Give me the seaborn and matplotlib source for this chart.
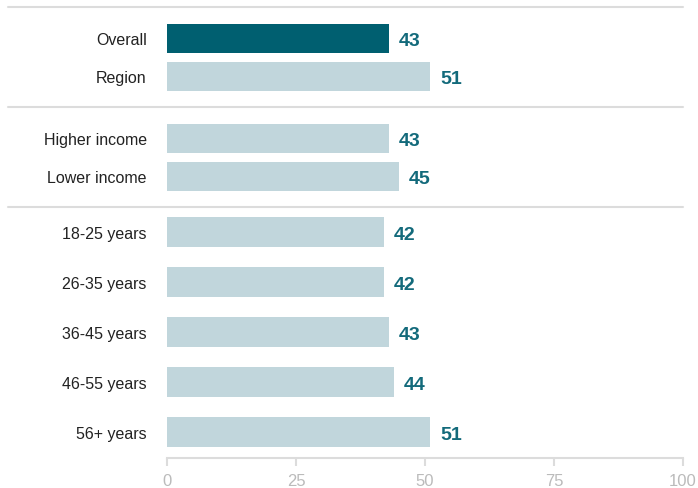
import matplotlib
matplotlib.use("Agg")
import matplotlib.pyplot as plt
import seaborn as sns
import pandas as pd
from matplotlib.lines import Line2D

categories = ["Overall", "Region", "Higher income", "Lower income",
              "18-25 years", "26-35 years", "36-45 years", "46-55 years", "56+ years"]
values = [43, 51, 43, 45, 42, 42, 43, 44, 51]
groups = ["summary", "summary", "income", "income", "age", "age", "age", "age", "age"]
x_ticks = [0, 25, 50, 75, 100]

df = pd.DataFrame({"category": categories, "value": values, "group": groups})

sns.set_theme(style="white")
plt.rcParams["font.family"] = ["Liberation Sans", "DejaVu Sans"]

DARK = "#005f70"
LIGHT = "#c1d6dc"
LABEL = "#136a7b"
GRID = "#dcdcdc"
W, H = 698, 489

fig = plt.figure(figsize=(W / 100, H / 100), dpi=100)

# panel layout in pixels: (top, bottom, pad_top, pad_bottom, spacing, bar height)
panels = [
    ("summary", 8, 108, 31, 31, 38, 29),
    ("income", 108, 208, 31, 31, 38, 29),
    ("age", 208, 459, 25, 26, 50, 30),
]
x0, x1 = 167, 683

for i, (g, top, bot, pt, pb, sp, bh) in enumerate(panels):
    ax = fig.add_axes([x0 / W, 1 - bot / H, (x1 - x0) / W, (bot - top) / H])
    sub = df[df["group"] == g]
    n = len(sub)
    pal = {c: (DARK if c == "Overall" else LIGHT) for c in sub["category"]}
    sns.barplot(data=sub, x="value", y="category", hue="category", palette=pal,
                order=list(sub["category"]), legend=False, width=bh / sp,
                saturation=1, linewidth=0, ax=ax)
    ax.set_ylim(n - 1 + pb / sp, -pt / sp)
    ax.set_xlim(0, 100)
    ax.set_xlabel("")
    ax.set_ylabel("")
    for cont in ax.containers:
        texts = ax.bar_label(cont, fmt="%d", padding=7, color=LABEL, fontsize=14,
                             fontweight="bold")
        for t in texts:
            t.set_va("center_baseline")
    ax.tick_params(axis="y", length=0, pad=14.5, labelsize=11.5, labelcolor="#222222")
    for s in ["top", "right", "left"]:
        ax.spines[s].set_visible(False)
    if g == "age":
        ax.spines["bottom"].set_color(GRID)
        ax.spines["bottom"].set_linewidth(1.5)
        ax.set_xticks(x_ticks)
        ax.set_xticklabels([str(t) for t in x_ticks])
        ax.tick_params(axis="x", length=6, width=1.5, color=GRID, pad=5,
                       labelsize=12, labelcolor="#bbbbbb", bottom=True)
    else:
        ax.spines["bottom"].set_visible(False)
        ax.set_xticks([])

for y in [8, 108, 208]:
    fig.add_artist(Line2D([8 / W, 683 / W], [1 - y / H, 1 - y / H],
                          color=GRID, lw=1.5, transform=fig.transFigure))

fig.savefig("out.png", dpi=100)
